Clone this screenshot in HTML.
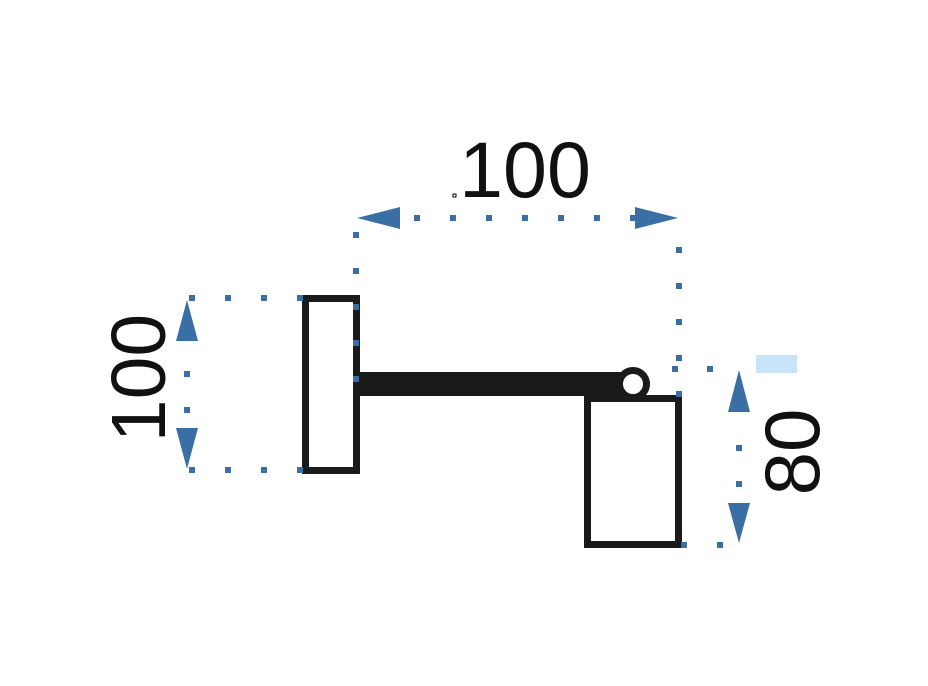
<!DOCTYPE html>
<html><head><style>
html,body{margin:0;padding:0;background:#fff;width:928px;height:686px;overflow:hidden}
</style></head><body>
<svg width="928" height="686" viewBox="0 0 928 686" xmlns="http://www.w3.org/2000/svg">
<rect width="928" height="686" fill="#fff"/>
<g fill="none" stroke="#1a1a1a" stroke-width="7">
<rect x="305.5" y="298.5" width="51" height="172"/>
<rect x="587.5" y="398.5" width="91" height="146"/>
</g>
<rect x="356" y="372" width="266" height="24" fill="#1a1a1a"/>
<rect x="584" y="385" width="40" height="14" fill="#1a1a1a"/>
<circle cx="633" cy="384" r="13.5" fill="#fff" stroke="#1a1a1a" stroke-width="7"/>
<g fill="#3a6fa5">
<!-- top dim -->
<polygon points="357,218 400,207 400,229"/>
<polygon points="678,218 635,207 635,229"/>
<rect x="414" y="215" width="6" height="6"/><rect x="450" y="215" width="6" height="6"/>
<rect x="486" y="215" width="6" height="6"/><rect x="522" y="215" width="6" height="6"/>
<rect x="558" y="215" width="6" height="6"/><rect x="594" y="215" width="6" height="6"/>
<rect x="630" y="215" width="6" height="6"/>
<rect x="353" y="232" width="6" height="6"/><rect x="353" y="268" width="6" height="6"/>
<rect x="353" y="304" width="6" height="6"/><rect x="353" y="340" width="6" height="6"/>
<rect x="353" y="376" width="6" height="6"/>
<rect x="676" y="247" width="6" height="6"/><rect x="676" y="283" width="6" height="6"/>
<rect x="676" y="319" width="6" height="6"/><rect x="676" y="355" width="6" height="6"/>
<rect x="676" y="391" width="6" height="6"/>
<!-- left dim -->
<polygon points="187,300 176,341 198,341"/>
<polygon points="187,469 176,428 198,428"/>
<rect x="184" y="371" width="6" height="6"/><rect x="184" y="407" width="6" height="6"/>
<rect x="189" y="295" width="6" height="6"/><rect x="225" y="295" width="6" height="6"/>
<rect x="261" y="295" width="6" height="6"/><rect x="297" y="295" width="6" height="6"/>
<rect x="189" y="467" width="6" height="6"/><rect x="225" y="467" width="6" height="6"/>
<rect x="261" y="467" width="6" height="6"/><rect x="297" y="467" width="6" height="6"/>
<!-- right dim -->
<polygon points="739,370 728,412 750,412"/>
<polygon points="739,543 728,503 750,503"/>
<rect x="736" y="445" width="6" height="6"/><rect x="736" y="481" width="6" height="6"/>
<rect x="672" y="366" width="6" height="6"/><rect x="707" y="366" width="6" height="6"/>
<rect x="681" y="542" width="6" height="6"/><rect x="717" y="542" width="6" height="6"/>
</g>
<rect x="756" y="355" width="41" height="18" fill="#c8e4f8"/>
<rect x="453" y="194" width="3" height="3" fill="none" stroke="#000" stroke-width="1"/>
<g font-family="Liberation Sans, sans-serif" fill="#111">
<text x="525" y="197" font-size="79" text-anchor="middle">100</text>
<text transform="translate(165,378) rotate(-90)" font-size="77" text-anchor="middle">100</text>
<text transform="translate(819,452) rotate(-90)" font-size="78" text-anchor="middle">80</text>
</g>
</svg>
</body></html>
